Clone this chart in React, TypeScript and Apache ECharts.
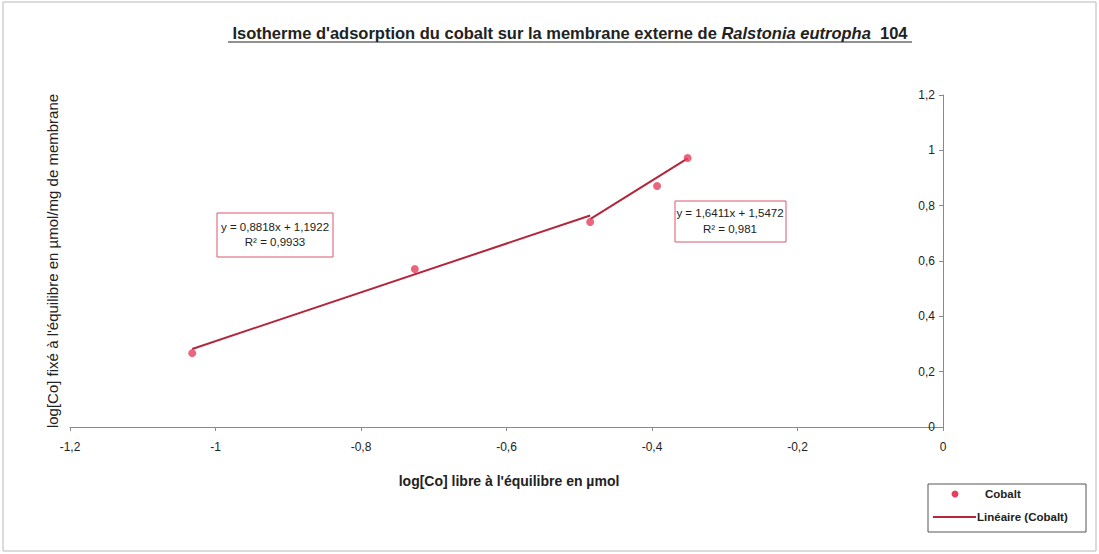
import React, { useEffect, useRef } from "react";
import * as echarts from "echarts";

const xValues = [-1.032, -0.726, -0.485, -0.393, -0.351];
const yValues = [0.267, 0.571, 0.741, 0.871, 0.972];
// regression 1: points 0..2, regression 2: points 2..4
const fit1 = { slope: 0.8818, intercept: 1.1922, from: -1.032, to: -0.485 };
const fit2 = { slope: 1.6411, intercept: 1.5472, from: -0.485, to: -0.351 };
const eq1 = ["y = 0,8818x + 1,1922", "R² = 0,9933"];
const eq2 = ["y = 1,6411x + 1,5472", "R² = 0,981"];
const xTitle = "log[Co] libre à l'équilibre en µmol";
const yTitle = "log[Co] fixé à l'équilibre en µmol/mg de membrane";

const FONT = "'Liberation Sans', Arial, sans-serif";
const POINT = "#e5405c";
const LINE = "#b3263c";

function fmt(v: number) {
  return String(Math.round(v * 10) / 10).replace(".", ",");
}

export default function App() {
  const ref = useRef<HTMLDivElement>(null);
  useEffect(() => {
    const chart = echarts.init(ref.current!, undefined, { renderer: "svg" });
    const line1 = [fit1.from, fit1.to].map((x) => [x, fit1.slope * x + fit1.intercept]);
    const line2 = [fit2.from, fit2.to].map((x) => [x, fit2.slope * x + fit2.intercept]);
    chart.setOption({
      animation: false,
      backgroundColor: "#ffffff",
      grid: { left: 70, right: 156, top: 95, bottom: 127 },
      xAxis: {
        type: "value",
        min: -1.2,
        max: 0,
        interval: 0.2,
        splitLine: { show: false },
        axisLine: { lineStyle: { color: "#8a8a8a", width: 1 } },
        axisTick: { lineStyle: { color: "#8a8a8a" }, length: 4 },
        axisLabel: {
          formatter: fmt,
          color: "#222",
          fontFamily: FONT,
          fontSize: 12,
          margin: 14,
        },
      },
      yAxis: {
        type: "value",
        position: "right",
        min: 0,
        max: 1.2,
        interval: 0.2,
        splitLine: { show: false },
        axisLine: { show: true, lineStyle: { color: "#8a8a8a", width: 1 } },
        axisTick: { show: true, inside: true, length: 4, lineStyle: { color: "#8a8a8a" } },
        axisLabel: {
          inside: true,
          formatter: fmt,
          color: "#222",
          fontFamily: FONT,
          fontSize: 12,
          margin: 8,
        },
      },
      series: [
        {
          type: "line",
          data: line1,
          symbol: "none",
          lineStyle: { color: LINE, width: 2 },
          z: 2,
        },
        {
          type: "line",
          data: line2,
          symbol: "none",
          lineStyle: { color: LINE, width: 2 },
          z: 2,
        },
        {
          type: "scatter",
          data: xValues.map((x, i) => [x, yValues[i]]),
          symbol: "circle",
          symbolSize: 8,
          itemStyle: { color: POINT },
          z: 3,
        },
      ],
      graphic: [
        {
          type: "rect",
          shape: { x: 3, y: 2, width: 1093, height: 549 },
          style: { fill: "none", stroke: "#b8b8b8", lineWidth: 1 },
          silent: true,
        },
        {
          type: "text",
          x: 570,
          y: 33,
          style: {
            text: "{b|Isotherme d'adsorption du cobalt sur la membrane externe de }{i|Ralstonia eutropha}{b|  104}",
            align: "center",
            verticalAlign: "middle",
            rich: {
              b: { fontFamily: FONT, fontSize: 16.5, fontWeight: "bold", fill: "#222" },
              i: { fontFamily: FONT, fontSize: 16.5, fontWeight: "bold", fontStyle: "italic", fill: "#222" },
            },
          },
        },
        {
          type: "line",
          shape: { x1: 228, y1: 42, x2: 912, y2: 42 },
          style: { stroke: "#222", lineWidth: 1 },
        },
        {
          type: "text",
          x: 509,
          y: 481,
          style: {
            text: xTitle,
            align: "center",
            verticalAlign: "middle",
            fontFamily: FONT,
            fontSize: 14,
            fontWeight: "bold",
            fill: "#222",
          },
        },
        {
          type: "text",
          x: 52,
          y: 261,
          rotation: Math.PI / 2,
          style: {
            text: yTitle,
            align: "center",
            verticalAlign: "middle",
            fontFamily: FONT,
            fontSize: 15,
            fill: "#222",
          },
        },
        {
          type: "rect",
          shape: { x: 217, y: 213, width: 116, height: 44 },
          style: { fill: "#ffffff", stroke: "#d9576f", lineWidth: 1 },
        },
        {
          type: "text",
          x: 275,
          y: 227,
          style: { text: eq1[0], align: "center", verticalAlign: "middle", fontFamily: FONT, fontSize: 11.5, fill: "#222" },
        },
        {
          type: "text",
          x: 275,
          y: 242,
          style: { text: eq1[1], align: "center", verticalAlign: "middle", fontFamily: FONT, fontSize: 11.5, fill: "#222" },
        },
        {
          type: "rect",
          shape: { x: 675, y: 201, width: 111, height: 41 },
          style: { fill: "#ffffff", stroke: "#d9576f", lineWidth: 1 },
        },
        {
          type: "text",
          x: 730,
          y: 213,
          style: { text: eq2[0], align: "center", verticalAlign: "middle", fontFamily: FONT, fontSize: 11.5, fill: "#222" },
        },
        {
          type: "text",
          x: 730,
          y: 229,
          style: { text: eq2[1], align: "center", verticalAlign: "middle", fontFamily: FONT, fontSize: 11.5, fill: "#222" },
        },
        {
          type: "rect",
          shape: { x: 928, y: 484, width: 158, height: 48 },
          style: { fill: "#ffffff", stroke: "#555", lineWidth: 1 },
        },
        {
          type: "circle",
          shape: { cx: 955, cy: 494, r: 3.5 },
          style: { fill: POINT },
        },
        {
          type: "text",
          x: 985,
          y: 494,
          style: { text: "Cobalt", verticalAlign: "middle", fontFamily: FONT, fontSize: 11.5, fontWeight: "bold", fill: "#222" },
        },
        {
          type: "line",
          shape: { x1: 933, y1: 517, x2: 976, y2: 517 },
          style: { stroke: LINE, lineWidth: 2 },
        },
        {
          type: "text",
          x: 977,
          y: 517,
          style: { text: "Linéaire (Cobalt)", verticalAlign: "middle", fontFamily: FONT, fontSize: 11.5, fontWeight: "bold", fill: "#222" },
        },
      ],
    });
    return () => chart.dispose();
  }, []);
  return (
    <div
      ref={ref}
      style={{ position: "absolute", left: 0, top: 0, width: 1099, height: 554 }}
    />
  );
}
